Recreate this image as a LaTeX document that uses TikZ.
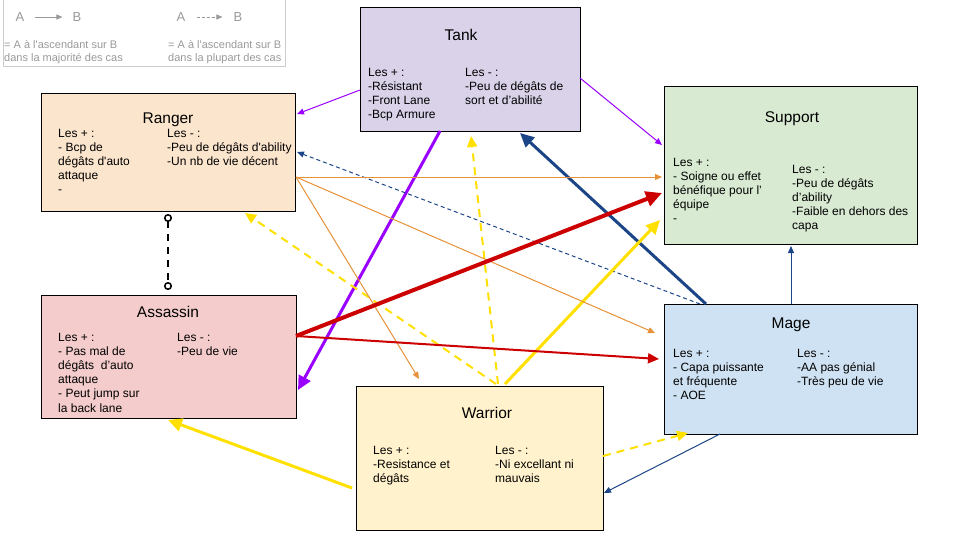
\documentclass[tikz,border=0pt]{standalone}
\usepackage{fontspec}
\setmainfont{Liberation Sans}
\usepackage{tikz}
\usetikzlibrary{arrows.meta}
\usetikzlibrary{calc}

\definecolor{tankfill}{HTML}{D9D2E9}
\definecolor{rangerfill}{HTML}{FCE5CD}
\definecolor{assassinfill}{HTML}{F4CCCC}
\definecolor{supportfill}{HTML}{D9EAD3}
\definecolor{magefill}{HTML}{CFE2F3}
\definecolor{warriorfill}{HTML}{FFF2CC}
\definecolor{violet}{HTML}{9900FF}
\definecolor{navy}{HTML}{1C4587}
\definecolor{crimson}{HTML}{CC0000}
\definecolor{gold}{HTML}{FFE000}
\definecolor{tangerine}{HTML}{E69138}

\begin{document}
\begin{tikzpicture}[x=1pt,y=-1pt]
		\useasboundingbox (0,0) rectangle (962,541);

		% legend
		\begin{scope}[every node/.style={text=black!40,inner sep=0}]
			\node[draw=black!20,line width=1pt,anchor=north west,minimum width=282pt,minimum height=71pt] (legend) at (3,-5) {};
			\node[font=\fontsize{13}{15}\selectfont] (lga) at (20,17) {A};
			\node[font=\fontsize{13}{15}\selectfont] (lgb) at (77,17) {B};
			\node[font=\fontsize{13}{15}\selectfont] (lgc) at (181,17) {A};
			\node[font=\fontsize{13}{15}\selectfont] (lgd) at (238,17) {B};
			% base of a node with several lines = its last line
			\node[anchor=base west,align=left,font=\fontsize{11}{13}\selectfont] (lgtxt1) at (4,61) {= A à l\textquotesingle ascendant sur B\\dans la majorité des cas};
			\node[anchor=base west,align=left,font=\fontsize{11}{13}\selectfont] (lgtxt2) at (168,61) {= A à l\textquotesingle ascendant sur B\\dans la plupart des cas};
			\path (lga) edge[draw=black!40,line width=1pt,-{Triangle[length=6pt,width=5pt]},shorten <=10pt,shorten >=10pt] (lgb);
			\path (lgc) edge[draw=black!40,line width=1pt,dash pattern=on 3pt off 2pt,-{Triangle[length=6pt,width=5pt]},shorten <=11pt,shorten >=11pt] (lgd);
		\end{scope}

		% boxes
		\begin{scope}[every node/.style={rectangle,draw=black,line width=1.3pt,anchor=north west,inner sep=0}]
			\node[fill=tankfill,minimum width=220pt,minimum height=124pt] (tank) at (360,7) {};
			\node[fill=rangerfill,minimum width=254pt,minimum height=118pt] (ranger) at (41,93) {};
			\node[fill=assassinfill,minimum width=255pt,minimum height=123pt] (assassin) at (41,295) {};
			\node[fill=supportfill,minimum width=253pt,minimum height=158pt] (support) at (664,86) {};
			\node[fill=magefill,minimum width=253pt,minimum height=130pt] (mage) at (664,304) {};
			\node[fill=warriorfill,minimum width=247pt,minimum height=144pt] (warrior) at (356,386) {};
		\end{scope}

		% titles
		\begin{scope}[every node/.style={anchor=base,inner sep=0,font=\fontsize{15.5}{18}\selectfont}]
			\node (tanktitle) at (461,40.5) {Tank};
			\node (rangertitle) at (168,123.5) {Ranger};
			\node (assassintitle) at (168,317.5) {Assassin};
			\node (supporttitle) at (792,122.5) {Support};
			\node (magetitle) at (791,328.5) {Mage};
			\node (warriortitle) at (487,418.5) {Warrior};
		\end{scope}

		% pros and cons (placed at the baseline of their last line)
		\begin{scope}[every node/.style={anchor=base west,align=left,inner sep=0,font=\fontsize{12}{14.2}\selectfont}]
			\node (tankplus) at (368,118.6) {Les + :\\-Résistant\\-Front Lane\\-Bcp Armure};
			\node (tankminus) at (465,104.4) {Les - :\\-Peu de dégâts de\\sort et d’abilité};
			\node (rangerplus) at (58,193.8) {Les + :\\- Bcp de\\dégâts d\textquotesingle auto\\attaque\\-};
			\node (rangerminus) at (167,165.4) {Les - :\\-Peu de dégâts d\textquotesingle ability\\-Un nb de vie décent};
			\node (assassinplus) at (58,412) {Les + :\\- Pas mal de\\dégâts~ d’auto\\attaque\\- Peut jump sur\\la back lane};
			\node (assassinminus) at (177,355.2) {Les - :\\-Peu de vie};
			\node (supportplus) at (673,222.8) {Les + :\\- Soigne ou effet\\bénéfique pour l’\\équipe\\-};
			\node (supportminus) at (792,229.8) {Les - :\\-Peu de dégâts\\d’ability\\-Faible en dehors des\\capa};
			\node (mageplus) at (673,399.6) {Les + :\\- Capa puissante\\et fréquente\\- AOE};
			\node (mageminus) at (797,385.4) {Les - :\\-AA pas génial\\-Très peu de vie};
			\node (warriorplus) at (373,482.4) {Les + :\\-Resistance et\\dégâts};
			\node (warriorminus) at (495,482.4) {Les - :\\-Ni excellant ni\\mauvais};
		\end{scope}

		% who beats whom
		\begin{scope}[slimarrow/.style={line width=1pt,-{Triangle[length=7pt,width=6pt]}},
		              boldarrow/.style={line width=3pt,-{Triangle[length=14pt,width=13pt]}},
		              dasharrow/.style={line width=2pt,dash pattern=on 8pt off 6pt,-{Triangle[length=11pt,width=10pt]}}]
			\path ($(tank.north west)+(0,83)$) edge[slimarrow,violet] ($(ranger.north west)+(256,21)$);
			\path ($(tank.north west)+(220,71)$) edge[slimarrow,violet] ($(support.north west)+(-2,59)$);
			\path ($(tank.north west)+(80,124)$) edge[boldarrow,violet] ($(assassin.north west)+(257,95)$);
			\path ($(mage.north west)+(42,0)$) edge[boldarrow,navy] ($(tank.north west)+(160,126)$);
			\path ($(mage.north west)+(36,0)$) edge[slimarrow,navy,dash pattern=on 4pt off 3pt] ($(ranger.north west)+(256,59)$);
			\path ($(mage.north west)+(127,0)$) edge[slimarrow,navy] ($(support.north west)+(127,160)$);
			\path ($(mage.north west)+(56,130)$) edge[slimarrow,navy] ($(warrior.north west)+(248,107)$);
			\path ($(warrior.north west)+(247,70)$) edge[dasharrow,gold] ($(mage.north west)+(24,129)$);
			\path ($(warrior.north west)+(-4,102)$) edge[boldarrow,gold] ($(assassin.north west)+(127,125)$);
			\path ($(warrior.north west)+(149,-2)$) edge[boldarrow,gold] ($(support.north west)+(-4,134)$);
			\path ($(warrior.north west)+(142,-2)$) edge[dasharrow,gold] ($(tank.north west)+(111,129)$);
			\path ($(warrior.north west)+(140,-2)$) edge[dasharrow,gold] ($(ranger.north west)+(204,120)$);
			\path ($(ranger.north west)+(255,84)$) edge[slimarrow,tangerine] ($(support.north west)+(-2,91)$);
			\path ($(ranger.north west)+(255,84)$) edge[slimarrow,tangerine] ($(mage.north west)+(-9,29)$);
			\path ($(ranger.north west)+(255,84)$) edge[slimarrow,tangerine] ($(warrior.north west)+(63,-7)$);
			\path ($(assassin.north west)+(255,41)$) edge[crimson,line width=4pt,-{Triangle[length=16pt,width=15pt]}] ($(support.north west)+(-2,107)$);
			\path ($(assassin.north west)+(255,41)$) edge[crimson,line width=2pt,-{Triangle[length=11pt,width=10pt]}] ($(mage.north west)+(-5,55)$);
			\path ($(ranger.north west)+(127,121)$) edge[black,line width=2pt,dash pattern=on 7pt off 6pt,{Circle[open,length=8pt,line width=1.5pt]}-{Circle[open,length=8pt,line width=1.5pt]}] ($(assassin.north west)+(127,-5)$);
		\end{scope}
\end{tikzpicture}
\end{document}
